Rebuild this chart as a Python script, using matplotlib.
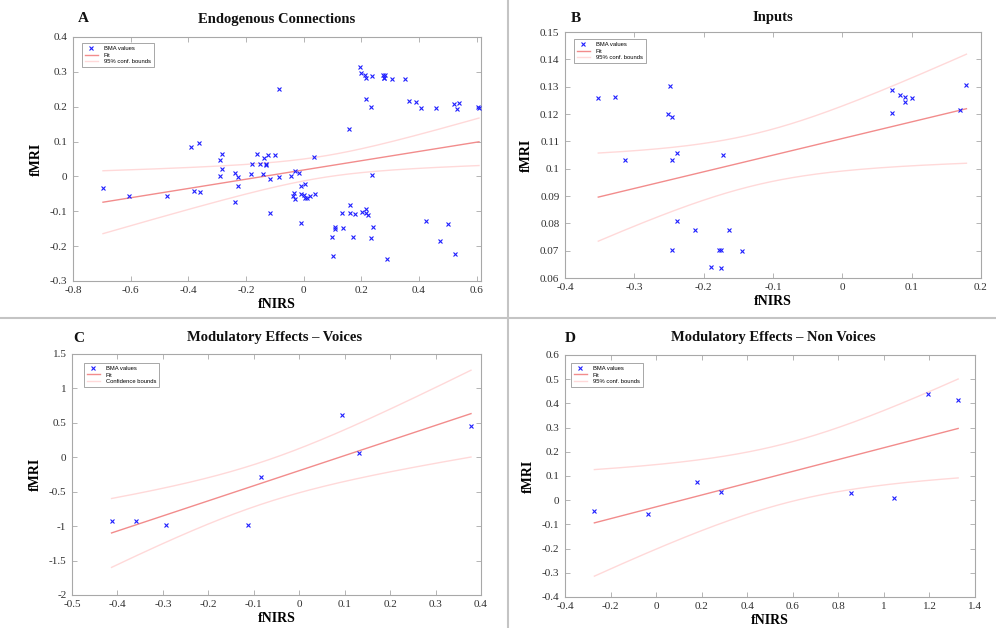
import math
import numpy as np
import matplotlib
matplotlib.use("Agg")
import matplotlib.pyplot as plt
from matplotlib.ticker import FuncFormatter, FixedLocator
from matplotlib.lines import Line2D

# ---------------- data ----------------
# Panel A: Endogenous Connections
a_x = [-0.696, -0.606, -0.473, -0.392, -0.364, -0.379, -0.361, -0.291, -0.284, -0.284,
       -0.291, -0.238, -0.227, -0.227, -0.237, -0.184, -0.179, -0.162, -0.151, -0.141,
       -0.137, -0.131, -0.129, -0.125, -0.118, -0.118, -0.101, -0.086, -0.086,
       -0.044, -0.037, -0.034, -0.029, -0.031, -0.017, -0.010, -0.010, -0.010, 0.002,
       0.006, 0.006, 0.010, 0.022, 0.037, 0.039, 0.099, 0.103, 0.110, 0.110, 0.134,
       0.137, 0.158, 0.159, 0.160, 0.170, 0.177, 0.194, 0.198, 0.203, 0.212, 0.215,
       0.216, 0.216, 0.215, 0.223, 0.234, 0.237, 0.238, 0.239, 0.235, 0.276, 0.279,
       0.281, 0.277, 0.288, 0.306, 0.352, 0.365, 0.390, 0.408, 0.423, 0.459, 0.474,
       0.501, 0.521, 0.526, 0.532, 0.537, 0.605, 0.608]
a_y = [-0.032, -0.057, -0.057, 0.084, 0.097, -0.041, -0.044, 0.047, 0.064, 0.020,
       0.001, 0.011, -0.001, -0.027, -0.073, 0.008, 0.035, 0.064, 0.037, 0.008,
       0.052, 0.037, 0.032, 0.061, -0.007, -0.105, 0.061, 0.251, -0.001,
       0.001, -0.056, -0.048, -0.065, 0.015, 0.009, -0.027, -0.050, -0.135, -0.052,
       -0.023, -0.063, -0.063, -0.055, 0.056, -0.049, -0.173, -0.227, -0.144, -0.152, -0.105,
       -0.148, 0.135, -0.082, -0.104, -0.173, -0.107, 0.313, 0.297, -0.102, 0.290, 0.283,
       0.221, -0.093, -0.106, -0.110, 0.199, 0.287, 0.003, -0.145, -0.176, 0.290, 0.283,
       0.292, 0.283, -0.236, 0.279, 0.279, 0.215, 0.213, 0.195, -0.127, 0.197, -0.186,
       -0.136, 0.208, -0.222, 0.194, 0.210, 0.199, 0.197]

# Panel B: Inputs
b_x = [-0.352, -0.328, -0.314, -0.249, -0.252, -0.245, -0.239, -0.246, -0.172, -0.238,
       -0.212, -0.164, -0.246, -0.178, -0.175, -0.144, -0.189, -0.175,
       0.071, 0.083, 0.090, 0.090, 0.100, 0.071, 0.170, 0.179]
b_y = [0.1257, 0.1261, 0.1032, 0.1302, 0.1200, 0.1190, 0.1059, 0.1032, 0.1051, 0.0807,
       0.0777, 0.0776, 0.0704, 0.0704, 0.0704, 0.0700, 0.0640, 0.0637,
       0.1287, 0.1271, 0.1261, 0.1245, 0.1259, 0.1205, 0.1215, 0.1305]

# Panel C: Modulatory Effects - Voices
c_x = [-0.413, -0.359, -0.293, -0.112, -0.085, 0.095, 0.131, 0.378]
c_y = [-0.932, -0.932, -0.990, -0.990, -0.286, 0.607, 0.068, 0.461]

# Panel D: Modulatory Effects - Non Voices
d_x = [-0.271, -0.035, 0.179, 0.284, 0.857, 1.044, 1.194, 1.326]
d_y = [-0.044, -0.055, 0.0745, 0.032, 0.028, 0.011, 0.440, 0.412]

letters = ["A", "B", "C", "D"]
titles = ["Endogenous Connections", "Inputs",
          "Modulatory Effects \u2013 Voices", "Modulatory Effects \u2013 Non Voices"]
bound_labels = ["95% conf. bounds", "95% conf. bounds",
                "Confidence bounds", "95% conf. bounds"]
a_xticks = [-0.8, -0.6, -0.4, -0.2, 0, 0.2, 0.4, 0.6]
a_yticks = [-0.3, -0.2, -0.1, 0, 0.1, 0.2, 0.3, 0.4]
b_xticks = [-0.4, -0.3, -0.2, -0.1, 0, 0.1, 0.2]
b_yticks = [0.06, 0.07, 0.08, 0.09, 0.1, 0.11, 0.12, 0.13, 0.14, 0.15]
c_xticks = [-0.5, -0.4, -0.3, -0.2, -0.1, 0, 0.1, 0.2, 0.3, 0.4]
c_yticks = [-2, -1.5, -1, -0.5, 0, 0.5, 1, 1.5]
d_xticks = [-0.4, -0.2, 0, 0.2, 0.4, 0.6, 0.8, 1, 1.2, 1.4]
d_yticks = [-0.4, -0.3, -0.2, -0.1, 0, 0.1, 0.2, 0.3, 0.4, 0.5, 0.6]


# ---------------- helpers ----------------
def t_crit(df, p=0.975):
    xs = np.linspace(0, 12, 40001)
    c = math.exp(math.lgamma((df + 1) / 2) - math.lgamma(df / 2)) / math.sqrt(df * math.pi)
    pdf = c * (1 + xs ** 2 / df) ** (-(df + 1) / 2)
    cdf = 0.5 + np.concatenate([[0], np.cumsum((pdf[1:] + pdf[:-1]) / 2 * np.diff(xs))])
    return float(np.interp(p, cdf, xs))


def fit_with_bounds(x, y):
    x = np.asarray(x, float)
    y = np.asarray(y, float)
    n = len(x)
    slope, intercept = np.polyfit(x, y, 1)
    resid = y - (slope * x + intercept)
    s = math.sqrt(np.sum(resid ** 2) / (n - 2))
    sxx = np.sum((x - x.mean()) ** 2)
    xf = np.linspace(x.min(), x.max(), 200)
    yf = slope * xf + intercept
    hw = t_crit(n - 2) * s * np.sqrt(1.0 / n + (xf - x.mean()) ** 2 / sxx)
    return xf, yf, yf - hw, yf + hw


fmt = FuncFormatter(lambda v, p: "%g" % round(v, 6))

W, H = 996, 628
fig = plt.figure(figsize=(W / 100, H / 100), dpi=100)

SERIF = "Liberation Serif"
SANS = "Liberation Sans"

# axes boxes in pixels: left, top, right, bottom
boxes = [(73, 37, 481, 281), (565, 32, 981, 278), (72, 354, 481, 595), (565, 355, 975, 597)]
xlims = [(-0.8, 0.615), (-0.4, 0.2), (-0.5, 0.4), (-0.4, 1.4)]
ylims = [(-0.3, 0.4), (0.06, 0.15), (-2, 1.5), (-0.4, 0.6)]
xticks = [a_xticks, b_xticks, c_xticks, d_xticks]
yticks = [a_yticks, b_yticks, c_yticks, d_yticks]
datasets = [(a_x, a_y), (b_x, b_y), (c_x, c_y), (d_x, d_y)]
title_pos = [(277, 19), (773, 18), (275, 338), (773, 338)]
letter_pos = [(83, 18), (576, 18), (79, 338), (570, 338)]
legend_anchor = [(82, 43), (574, 39), (84, 363), (571, 363)]

spine_col = "#a8a8a8"
for i in range(4):
    l, t, r, b = boxes[i]
    ax = fig.add_axes([l / W, 1 - b / H, (r - l) / W, (b - t) / H])
    x, y = datasets[i]
    xf, yf, lo, hi = fit_with_bounds(x, y)
    ax.plot(x, y, linestyle="none", marker="x", color="#1f1fff", markersize=3.2,
            markeredgewidth=0.8, label="BMA values", zorder=3)
    ax.plot(xf, yf, color="#f28c8c", lw=1.0, label="Fit", zorder=2)
    ax.plot(xf, hi, color="#ffd9d9", lw=1.0, label=bound_labels[i], zorder=1)
    ax.plot(xf, lo, color="#ffd9d9", lw=1.0, zorder=1)
    ax.set_xlim(*xlims[i])
    ax.set_ylim(*ylims[i])
    ax.xaxis.set_major_locator(FixedLocator(xticks[i]))
    ax.yaxis.set_major_locator(FixedLocator(yticks[i]))
    ax.xaxis.set_major_formatter(fmt)
    ax.yaxis.set_major_formatter(fmt)
    ax.tick_params(direction="in", length=3.5, width=0.6, color=spine_col,
                   top=True, right=True, labelsize=8, labelcolor="#303030")
    ax.tick_params(axis="x", pad=3.5)
    ax.tick_params(axis="y", pad=4)
    for lab in ax.get_xticklabels() + ax.get_yticklabels():
        lab.set_family(SERIF)
    for sp in ax.spines.values():
        sp.set_color(spine_col)
        sp.set_linewidth(0.8)
    ax.set_xlabel("fNIRS", family=SERIF, fontweight="bold", fontsize=10, labelpad=2)
    ax.set_ylabel("fMRI", family=SERIF, fontweight="bold", fontsize=10, labelpad=5)
    ax_px_l, ax_px_t = legend_anchor[i]
    leg = ax.legend(loc="upper left",
                    bbox_to_anchor=((ax_px_l - l) / (r - l), (b - ax_px_t) / (b - t)),
                    borderaxespad=0, prop={"family": SANS, "size": 4.2},
                    frameon=True, fancybox=False, handlelength=2.3, handletextpad=1.0,
                    borderpad=0.45, labelspacing=0.3)
    leg.get_frame().set_edgecolor("#7f7f7f")
    leg.get_frame().set_linewidth(0.6)

    tx, ty = title_pos[i]
    fig.text(tx / W, 1 - ty / H, titles[i], family=SERIF, fontweight="bold",
             fontsize=10.5, ha="center", va="center", color="#111111")
    lx, ly = letter_pos[i]
    fig.text(lx / W, 1 - ly / H, letters[i], family=SERIF, fontweight="bold",
             fontsize=11, ha="center", va="center", color="#111111")

# divider lines
fig.add_artist(Line2D([508 / W, 508 / W], [0, 1], transform=fig.transFigure,
                      color="#c4c4c4", lw=1.5))
fig.add_artist(Line2D([0, 1], [1 - 317.5 / H, 1 - 317.5 / H], transform=fig.transFigure,
                      color="#c4c4c4", lw=1.5))

fig.savefig("out.png", dpi=100, facecolor="white")
